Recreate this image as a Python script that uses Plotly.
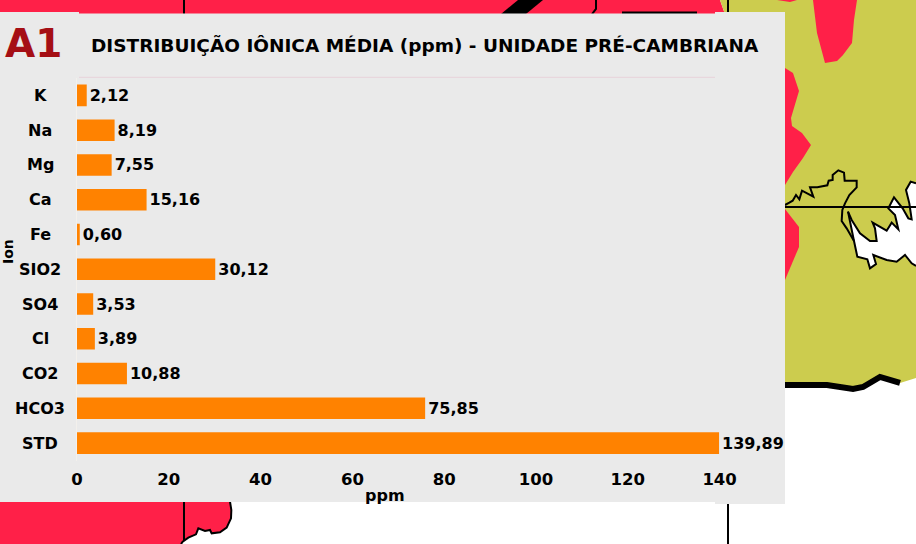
import plotly.graph_objects as go

W, H = 916, 544
ions = ["K", "Na", "Mg", "Ca", "Fe", "SIO2", "SO4", "Cl", "CO2", "HCO3", "STD"]
ppm = [2.12, 8.19, 7.55, 15.16, 0.60, 30.12, 3.53, 3.89, 10.88, 75.85, 139.89]
x_ticks = [0, 20, 40, 60, 80, 100, 120, 140]
title_text = "DISTRIBUIÇÃO IÔNICA MÉDIA (ppm) - UNIDADE PRÉ-CAMBRIANA"

RED = "#FF2048"; OLIVE = "#CCCC4E"; PANEL = "#EAEAEA"; ORANGE = "#FF8200"
FONT = "DejaVu Sans"


def path(points, close=True):
    s = "M " + " L ".join(f"{x / W:.5f},{1 - y / H:.5f}" for x, y in points)
    return s + (" Z" if close else "")


def shape(points, fill=None, line=None, width=0, close=True):
    d = dict(type="path", xref="paper", yref="paper", layer="below", path=path(points, close))
    d["fillcolor"] = fill if fill else "rgba(0,0,0,0)"
    d["line"] = dict(color=line if line else "rgba(0,0,0,0)", width=width)
    return d


def z5(pts):
    return [(780 + a / 3, 160 + b / 3) for a, b in pts]


def z6(pts):
    return [(170 + a / 3, 495 + b / 3) for a, b in pts]


coast1 = z5([(15, 135), (28, 128), (38, 122), (48, 105), (58, 118), (66, 92), (100, 110), (90, 82), (112, 82),
             (142, 76), (146, 62), (158, 60), (158, 45), (175, 31), (192, 38), (194, 62), (230, 62), (230, 82),
             (208, 105), (195, 130), (187, 150), (185, 183), (200, 205), (222, 243)])
coast2 = z5([(204, 155), (215, 180), (240, 220), (270, 243), (290, 243), (285, 205), (278, 188), (320, 212),
             (335, 188), (355, 208), (345, 165), (325, 145), (342, 112), (368, 145), (385, 175), (395, 178),
             (388, 130), (378, 90), (392, 65), (408, 70)])
white_rest = z5([(408, 318), (395, 310), (375, 285), (350, 305), (320, 300), (280, 285), (288, 312), (270, 325),
                 (262, 298), (232, 290), (222, 243), (204, 155)])
south = z6([(180, 20), (184, 45), (183, 70), (170, 98), (150, 112), (125, 115), (120, 105), (105, 108), (85, 100),
            (78, 118), (55, 128), (38, 140), (33, 147)])

shapes = [
    # map behind the panel
    shape([(0, 0), (720, 0), (727, 20), (0, 20)], fill=RED),
    shape([(720, 0), (916, 0), (916, 378), (900, 383), (880, 377), (863, 387), (853, 389), (827, 385), (770, 385),
           (770, 20), (727, 20)], fill=OLIVE),
    shape([(813, 0), (817, 33), (825, 63), (837, 61), (843, 55), (852, 43), (854, 20), (857, 0)], fill=RED),
    shape([(777, 0), (790, 2), (797, 0)], fill=RED),
    shape([(780, 68), (785, 68), (793, 73), (799, 91), (791, 118), (792, 126), (802, 133), (811, 145), (803, 158),
           (793, 172), (785, 185), (780, 190)], fill=RED),
    shape([(780, 209), (785, 209), (799, 227), (799, 247), (785, 280), (780, 285)], fill=RED),
    shape(coast2 + white_rest, fill="#FFFFFF"),
    shape(coast1, line="#000000", width=2, close=False),
    shape(coast2, line="#000000", width=2, close=False),
    shape(white_rest, line="#000000", width=2, close=False),
    shape([(780, 207), (916, 207)], line="#000000", width=2, close=False),
    shape([(770, 385), (827, 385), (853, 389), (863, 387), (880, 377), (900, 383)], line="#000000", width=6,
          close=False),
    shape([(501, 14), (526, 14), (543, 0), (518, 0)], fill="#000000"),
    shape([(596, 0), (596, 9), (592, 14)], line="#000000", width=2, close=False),
    shape([(622, 13), (697, 13)], line="#000000", width=3, close=False),
    shape([(184, 0), (184, 14)], line="#000000", width=2, close=False),
    shape([(728, 0), (728, 14)], line="#000000", width=2, close=False),
    shape([(0, 500), (232, 500)] + south + [(0, 544)], fill=RED),
    shape(south, line="#000000", width=2, close=False),
    shape([(184, 500), (184, 541)], line="#000000", width=2, close=False),
    shape([(728, 500), (728, 544)], line="#000000", width=2, close=False),
    # grey panel
    shape([(0, 12), (79, 12), (79, 13.5), (715, 13.5), (715, 12), (785, 12), (785, 504), (715, 504), (715, 502),
           (0, 502)], fill=PANEL),
    shape([(79, 77.3), (715, 77.3)], line="#E8D2DA", width=1, close=False),
]

fig = go.Figure(go.Bar(
    x=ppm, y=ions, orientation="h", marker=dict(color=ORANGE, line=dict(width=0)),
    text=ppm, texttemplate="%{x:.2f}", textposition="outside", cliponaxis=False,
    constraintext="none", textfont=dict(family=FONT, size=16, color="#000000", weight="bold"),
    hoverinfo="skip",
))

annotations = [
    dict(x=-0.0575, xref="x domain", y=name, yref="y", text=name, showarrow=False, xanchor="center", yanchor="middle",
         font=dict(family=FONT, size=16, color="#000000", weight="bold"))
    for name in ions
]
annotations += [
    dict(x=3 / W, y=1 - 43 / H, xref="paper", yref="paper", text="A1", showarrow=False, xanchor="left",
         yanchor="middle", font=dict(family=FONT, size=39, color="#A50F15", weight="bold")),
    dict(x=8 / W, y=1 - 252 / H, xref="paper", yref="paper", text="Ion", textangle=-90, showarrow=False,
         xanchor="center", yanchor="middle", font=dict(family=FONT, size=14, color="#000000", weight="bold")),
    dict(x=385 / W, y=1 - 495 / H, xref="paper", yref="paper", text="ppm", showarrow=False, xanchor="center",
         yanchor="middle", font=dict(family=FONT, size=16, color="#000000", weight="bold")),
]

fig.update_layout(
    width=W, height=H, autosize=False, margin=dict(l=0, r=0, t=0, b=0, autoexpand=False),
    paper_bgcolor="#FFFFFF", plot_bgcolor="rgba(0,0,0,0)", showlegend=False, separators=",.",
    bargap=0.38, shapes=shapes, annotations=annotations,
    title=dict(text=title_text, x=91 / W, xanchor="left", xref="paper", y=1 - 46 / H, yref="paper", yanchor="middle",
               font=dict(family=FONT, size=18.5, color="#000000", weight="bold")),
    xaxis=dict(domain=[77 / W, 719.6 / W], range=[0, 140], tickvals=x_ticks, showgrid=False, zeroline=False,
               showline=False, ticks="", ticklabelstandoff=7,
               tickfont=dict(family=FONT, size=16.5, color="#000000", weight="bold")),
    yaxis=dict(domain=[1 - 460.5 / H, 1 - 78 / H], autorange="reversed", categoryorder="array", categoryarray=ions,
               showticklabels=False, showgrid=False, zeroline=False, showline=True, linecolor="#F3F0EC", linewidth=1,
               ticks=""),
)

fig.write_html("out.html", config=dict(displayModeBar=False),
               post_script="document.body.style.margin='0';document.documentElement.style.overflow='hidden';")
